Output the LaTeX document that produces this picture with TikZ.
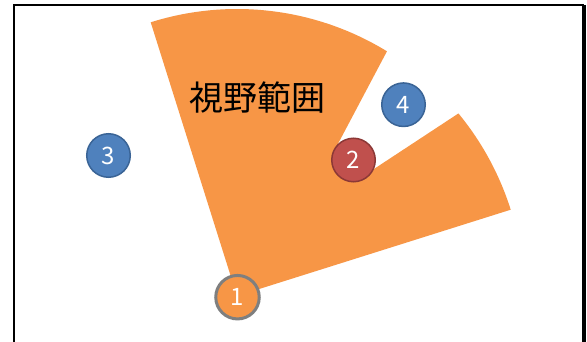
\documentclass[tikz,border=0pt]{standalone}
\usepackage{fontspec}
\newfontfamily\jpfont{Noto Sans CJK JP}
\definecolor{sectorOrange}{HTML}{F79646}
\definecolor{blueFill}{HTML}{4F81BD}
\definecolor{blueLine}{HTML}{3A6496}
\definecolor{redFill}{HTML}{C0504D}
\definecolor{redLine}{HTML}{8C3836}
\definecolor{grayLine}{HTML}{7F7F7F}
\tikzset{
  marker/.style={circle, inner sep=0pt, text=white, font=\jpfont\fontsize{24}{24}\selectfont},
  bluemark/.style={marker, fill=blueFill, draw=blueLine, line width=1.5pt, minimum size=43.5pt},
  redmark/.style={marker, fill=redFill, draw=redLine, line width=1.5pt, minimum size=43.5pt},
  originmark/.style={marker, fill=sectorOrange, draw=grayLine, line width=3pt, minimum size=43.5pt},
  framestyle/.style={draw=black, line width=2pt}
}
\begin{document}
\begin{tikzpicture}[x=1pt,y=-1pt]
\useasboundingbox (0,0) rectangle (587,342);
\fill[white] (0,0) rectangle (587,342);
% frame
\draw[framestyle] (14,343) -- (14,5) -- (584,5);
\draw[black, line width=3.5pt] (584,5) -- (584,343);
% sector with shadow notch
\fill[sectorOrange]
  (237,296)
  -- plot[domain=17.5:39.5, samples=40] ({237+287*cos(\x)},{296-287*sin(\x)})
  -- (377,167) -- (370,171.5) -- (353.5,160) -- (335,149) -- (340,140)
  -- plot[domain=58.5:107.5, samples=60] ({237+287*cos(\x)},{296-287*sin(\x)})
  -- cycle;
\node[font=\jpfont\fontsize{34}{34}\selectfont, text=black, inner sep=0pt] (label) at (257.5,97.7) {視野範囲};
\node[originmark] (c1) at (237.5,297.2) {1};
\node[redmark] (c2) at (353.5,160) {2};
\node[bluemark] (c3) at (108.5,155.5) {3};
\node[bluemark] (c4) at (403.5,104.7) {4};
\end{tikzpicture}
\end{document}
